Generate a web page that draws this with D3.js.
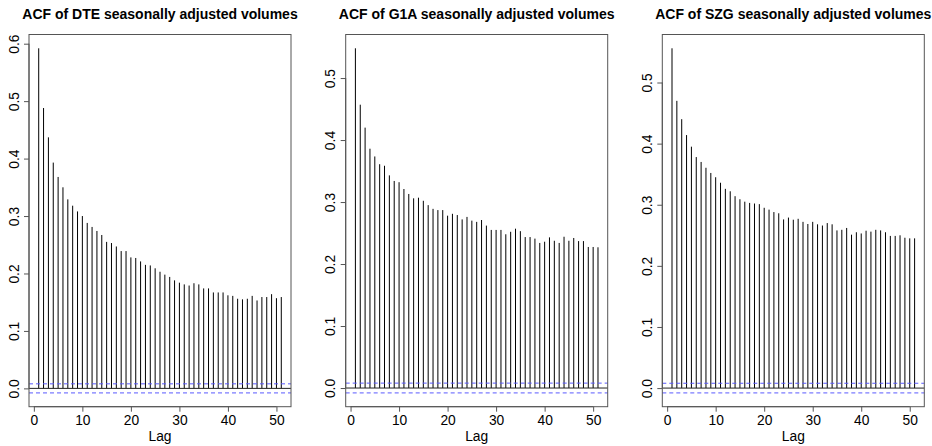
<!DOCTYPE html>
<html>
<head>
<meta charset="utf-8">
<script src="https://cdn.jsdelivr.net/npm/d3@7"></script>
<style>
  html, body { margin: 0; padding: 0; background: #fff; }
  svg { display: block; }
  text { font-family: "Liberation Sans", Arial, sans-serif; fill: #000; }
</style>
</head>
<body>
<svg id="chart" width="932" height="446"></svg>
<script>
// ---- data ----
const lags = d3.range(1, 52);
const titles = [
  "ACF of DTE seasonally adjusted volumes",
  "ACF of G1A seasonally adjusted volumes",
  "ACF of SZG seasonally adjusted volumes"
];
const dteAcf = [0.592, 0.488, 0.437, 0.393, 0.368, 0.350, 0.329, 0.318, 0.308, 0.300,
  0.288, 0.281, 0.274, 0.267, 0.255, 0.253, 0.247, 0.239, 0.239, 0.228,
  0.227, 0.221, 0.215, 0.214, 0.209, 0.203, 0.198, 0.194, 0.188, 0.184,
  0.181, 0.179, 0.183, 0.181, 0.174, 0.174, 0.167, 0.167, 0.167, 0.162,
  0.161, 0.156, 0.155, 0.156, 0.161, 0.153, 0.159, 0.159, 0.164, 0.157, 0.159];
const g1aAcf = [0.548, 0.457, 0.420, 0.386, 0.3735, 0.361, 0.3585, 0.343, 0.334, 0.332,
  0.321, 0.313, 0.306, 0.307, 0.302, 0.295, 0.289, 0.287, 0.287, 0.278,
  0.281, 0.279, 0.272, 0.276, 0.270, 0.268, 0.271, 0.262, 0.255, 0.255,
  0.255, 0.248, 0.252, 0.257, 0.253, 0.2435, 0.2435, 0.241, 0.234, 0.236,
  0.243, 0.2375, 0.234, 0.244, 0.2375, 0.242, 0.237, 0.237, 0.2275, 0.2275, 0.227];
const szgAcf = [0.556, 0.470, 0.440, 0.414, 0.395, 0.378, 0.370, 0.3605, 0.352, 0.345,
  0.336, 0.326, 0.322, 0.314, 0.309, 0.305, 0.303, 0.302, 0.301, 0.295,
  0.292, 0.288, 0.286, 0.276, 0.279, 0.2755, 0.277, 0.272, 0.2685, 0.272,
  0.268, 0.266, 0.270, 0.268, 0.258, 0.259, 0.262, 0.251, 0.255, 0.253,
  0.2575, 0.256, 0.259, 0.258, 0.255, 0.249, 0.249, 0.250, 0.246, 0.245, 0.245];
const seriesList = [dteAcf, g1aAcf, szgAcf];
const xTicks = [0, 10, 20, 30, 40, 50];
const yTicksList = [
  [0.0, 0.1, 0.2, 0.3, 0.4, 0.5, 0.6],
  [0.0, 0.1, 0.2, 0.3, 0.4, 0.5],
  [0.0, 0.1, 0.2, 0.3, 0.4, 0.5]
];
const ciBound = 0.0079;
const xLabel = "Lag";

// ---- layout ----
const svg = d3.select("#chart");
const panelLefts = [29, 345.7, 662.3];
const boxW = 262;
const boxTop = 34.5;
const boxBottom = 406.7;
const boxColor = "#555";
const axisFont = 13.8;

function rPad(lo, hi) { const e = (hi - lo) * 0.04; return [lo - e, hi + e]; }

seriesList.forEach((vals, i) => {
  const left = panelLefts[i];
  const right = left + boxW;
  const g = svg.append("g");

  const xDom = rPad(d3.min(lags), d3.max(lags));
  const x = d3.scaleLinear().domain(xDom).range([left, right]);
  const lo = Math.min(-ciBound, d3.min(vals));
  const hi = Math.max(ciBound, d3.max(vals));
  const y = d3.scaleLinear().domain(rPad(lo, hi)).range([boxBottom, boxTop]);

  // spikes
  g.append("g").selectAll("line").data(lags).join("line")
    .attr("x1", d => x(d)).attr("x2", d => x(d))
    .attr("y1", y(0)).attr("y2", (d, j) => y(vals[j]))
    .attr("stroke", "#000").attr("stroke-width", 1);

  // zero line
  g.append("line").attr("x1", left).attr("x2", right)
    .attr("y1", y(0)).attr("y2", y(0))
    .attr("stroke", "#222").attr("stroke-width", 1);

  // confidence bounds
  [ciBound, -ciBound].forEach(c => {
    g.append("line").attr("x1", left).attr("x2", right)
      .attr("y1", y(c)).attr("y2", y(c))
      .attr("stroke", "#5a5aff").attr("stroke-width", 1)
      .attr("stroke-dasharray", "4,3");
  });

  // box
  g.append("rect").attr("x", left).attr("y", boxTop)
    .attr("width", boxW).attr("height", boxBottom - boxTop)
    .attr("fill", "none").attr("stroke", boxColor).attr("stroke-width", 1);

  // x axis
  const xAxis = d3.axisBottom(x).tickValues(xTicks).tickSize(5).tickPadding(4)
    .tickFormat(d3.format("d"));
  const xa = g.append("g").attr("transform", `translate(0,${boxBottom})`).call(xAxis);
  xa.select(".domain").attr("d", `M${x(0)},0H${x(50)}`).attr("stroke", boxColor);
  xa.selectAll(".tick line").attr("stroke", boxColor);
  xa.selectAll("text").attr("font-size", axisFont).attr("font-family", "Liberation Sans, Arial, sans-serif")
    .attr("fill", "#000");

  // y axis
  const yt = yTicksList[i];
  const yAxis = d3.axisLeft(y).tickValues(yt).tickSize(5).tickFormat(d3.format(".1f"));
  const ya = g.append("g").attr("transform", `translate(${left},0)`).call(yAxis);
  ya.select(".domain").attr("d", `M0,${y(yt[0])}V${y(yt[yt.length - 1])}`).attr("stroke", boxColor);
  ya.selectAll(".tick line").attr("stroke", boxColor);
  ya.selectAll(".tick text")
    .attr("x", null).attr("dy", null)
    .attr("transform", "translate(-10.5,0) rotate(-90)")
    .attr("text-anchor", "middle")
    .attr("font-size", axisFont).attr("font-family", "Liberation Sans, Arial, sans-serif")
    .attr("fill", "#000");

  // title
  g.append("text").attr("x", (left + right) / 2).attr("y", 18.5)
    .attr("text-anchor", "middle").attr("font-weight", "bold").attr("font-size", 14)
    .text(titles[i]);

  // x label
  g.append("text").attr("x", (left + right) / 2).attr("y", 441)
    .attr("text-anchor", "middle").attr("font-size", axisFont)
    .text(xLabel);
});
</script>
</body>
</html>
